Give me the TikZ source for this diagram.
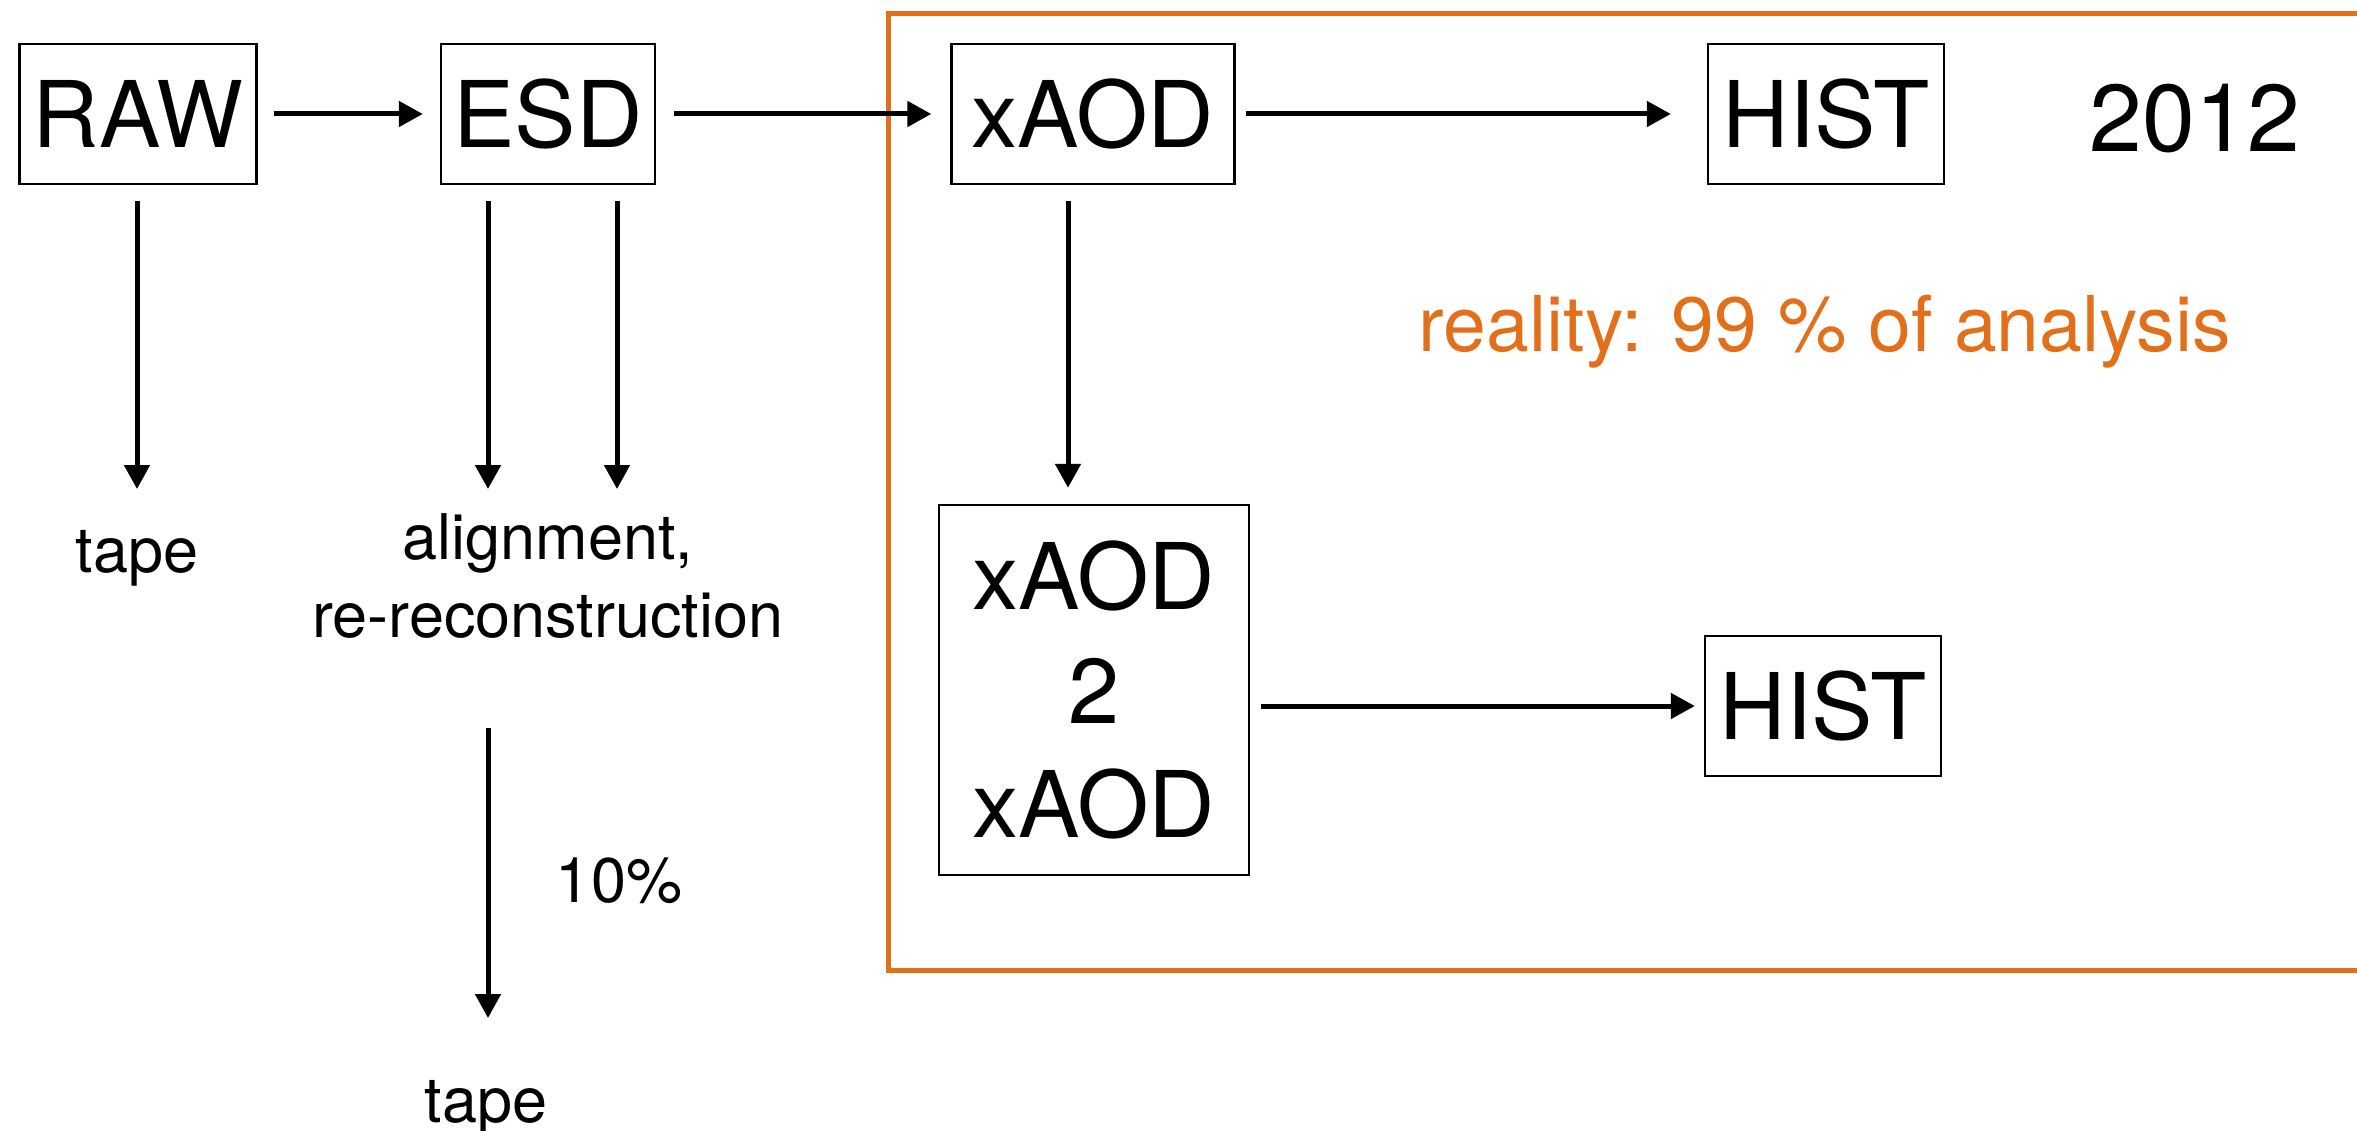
\documentclass[tikz,border=0pt]{standalone}
\usepackage{fontspec}
\setmainfont{TeX Gyre Heros}
\usetikzlibrary{arrows.meta}
\definecolor{korange}{RGB}{226,111,26}
\tikzset{
  box/.style={draw=black, line width=2.4pt, inner sep=0pt, minimum height=140pt, font=\fontsize{92pt}{110pt}\selectfont},
  big/.style={inner sep=0pt, font=\fontsize{95pt}{110pt}\selectfont},
  small/.style={inner sep=0pt, font=\fontsize{63pt}{78pt}\selectfont},
  arr/.style={line width=5pt, -{Triangle[length=24pt,width=25pt]}},
  frame/.style={draw=korange, line width=5pt}
}
\begin{document}
\begin{tikzpicture}[x=1pt,y=-1pt]
\useasboundingbox (0,0) rectangle (2357,1131);
% orange frame
\draw[frame] (2370,14) -- (888,14) -- (888,970) -- (2370,970);
% boxes
\node[box, minimum width=237pt] (raw) at (138,114) {RAW};
\node[box, minimum width=214pt] (esd) at (548,114) {ESD};
\node[box, minimum width=283pt] (xaod) at (1093,114) {xAOD};
\node[box, minimum width=236pt] (hist1) at (1826,114) {HIST};
\node[box, minimum width=310pt, minimum height=370pt, align=center, font=\fontsize{92pt}{114pt}\selectfont] (box2) at (1094,690) {xAOD\\2\\xAOD};
\node[box, minimum width=236pt] (hist2) at (1823,706) {HIST};
% labels
\node[big, anchor=base] (year) at (2195,152) {2012};
\node[inner sep=0pt, anchor=base, text=korange, font=\fontsize{77pt}{90pt}\selectfont] (reality) at (1825,352) {reality: 99 \% of analysis};
\node[small, anchor=base] (tape1) at (137,572) {tape};
\node[small, align=center] (align) at (548,576) {alignment,\\re-reconstruction};
\node[small, anchor=base] (pct) at (619,902) {10\%};
\node[small, anchor=base] (tape2) at (486,1122) {tape};
% arrow end points
\coordinate (t1) at (137,489);
\coordinate (a1) at (488,489);
\coordinate (a2) at (617,489);
\coordinate (c1) at (488,728);
\coordinate (c2) at (488,1018);
% horizontal arrows
\draw[arr, shorten <=16pt, shorten >=17pt] (raw.east) -- (esd.west);
\draw[arr, shorten <=18pt, shorten >=19pt] (esd.east) -- (xaod.west);
\draw[arr, shorten <=10pt, shorten >=36pt] (xaod.east) -- (hist1.west);
\draw[arr, shorten <=11pt, shorten >=9pt] (box2.east |- hist2.west) -- (hist2.west);
% vertical arrows
\draw[arr] ([yshift=-16pt]raw.south -| t1) -- (t1);
\draw[arr] ([yshift=-16pt]esd.south -| a1) -- (a1);
\draw[arr] ([yshift=-16pt]esd.south -| a2) -- (a2);
\draw[arr] (c1) -- (c2);
\draw[arr] ([xshift=-25pt,yshift=-16pt]xaod.south) -- ([xshift=-26pt,yshift=16pt]box2.north);
\end{tikzpicture}
\end{document}
